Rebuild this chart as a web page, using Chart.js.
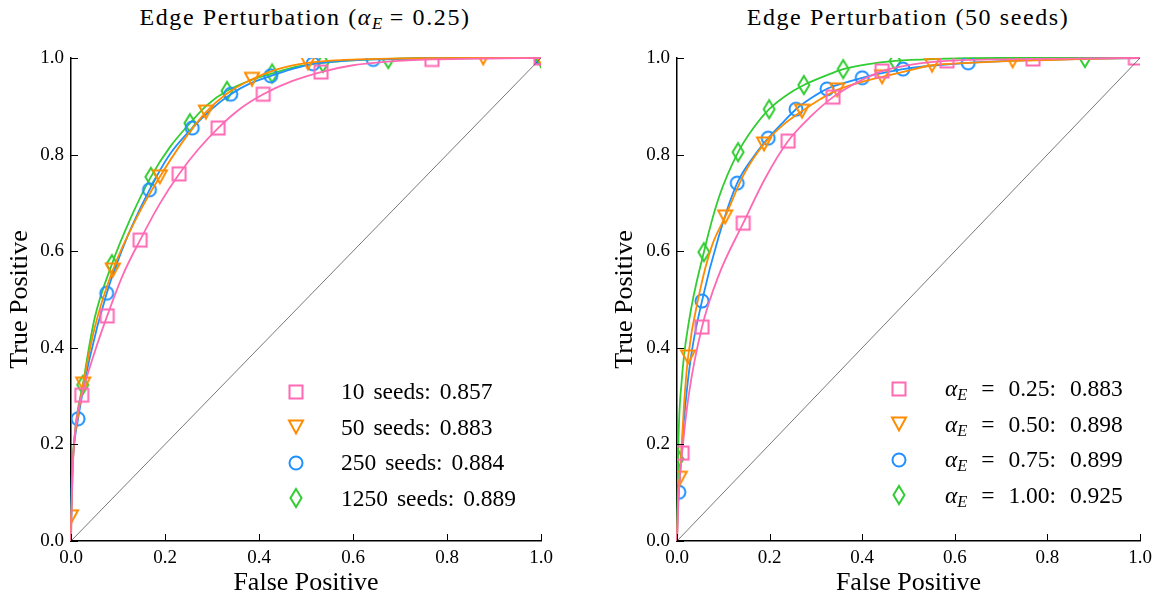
<!DOCTYPE html>
<html>
<head>
<meta charset="utf-8">
<script src="https://cdn.jsdelivr.net/npm/chart.js@4.4.1/dist/chart.umd.min.js"></script>
<style>
  body { margin: 0; background: #fff; width: 1162px; height: 601px; position: relative; overflow: hidden;
         font-family: "Liberation Serif", "DejaVu Serif", serif; color: #000; }
  .panel { position: absolute; top: 0; height: 601px; }
  .title { position: absolute; top: 4px; font-size: 24px; letter-spacing: 1.6px; white-space: nowrap; transform: translateX(-50%); }
  .title sub, .legend sub { font-size: 0.7em; font-style: italic; vertical-align: -0.25em; line-height: 0; letter-spacing: 0; }
  .legend { position: absolute; font-size: 23.5px; word-spacing: 3px; }
  .legend .row { display: flex; align-items: center; height: 35.5px; white-space: nowrap; }
  .legend .sym { display: flex; justify-content: flex-start; }
  #legendR { word-spacing: 8px; }
</style>
</head>
<body>
<div class="title" id="titleL" style="left:305px">Edge Perturbation (<i>α</i><sub>E</sub> = 0.25)</div>
<div class="title" id="titleR" style="left:908px">Edge Perturbation (50 seeds)</div>
<div class="panel" style="left:0;width:581px"><canvas id="chartL"></canvas></div>
<div class="panel" style="left:605px;width:557px"><canvas id="chartR"></canvas></div>
<div class="legend" id="legendL" style="left:284px;top:374px"></div>
<div class="legend" id="legendR" style="left:887px;top:371px"></div>
<script>
const COLORS = ["#ff69b4", "#ff8c00", "#1e90ff", "#32cd32"];
const SHAPES = ["square", "triangleDown", "circle", "thinDiamond"];
const TICKS = [0, 0.2, 0.4, 0.6, 0.8, 1.0];
const DIAGONAL = [[0, 0], [1, 1]];

// left panel: alpha_E = 0.25, number of seeds
const leftLabels = ["10 seeds: 0.857", "50 seeds: 0.883", "250 seeds: 0.884", "1250 seeds: 0.889"];

const leftPinkLine = [[0, 0], [0.002, 0.1], [0.005, 0.18], [0.01, 0.24], [0.023, 0.302], [0.05, 0.39], [0.077, 0.466],
  [0.11, 0.55], [0.147, 0.623], [0.19, 0.70], [0.23, 0.76], [0.27, 0.81], [0.313, 0.855], [0.36, 0.895], [0.409, 0.925],
  [0.47, 0.952], [0.532, 0.971], [0.6, 0.985], [0.68, 0.993], [0.768, 0.997], [0.88, 0.999], [1, 1]];
const leftPinkMarks = [[0.023, 0.302], [0.077, 0.466], [0.147, 0.623], [0.23, 0.76], [0.313, 0.855], [0.409, 0.925],
  [0.532, 0.971], [0.768, 0.997], [1, 1]];

const leftOrangeLine = [[0, 0], [0, 0.05], [0.005, 0.18], [0.015, 0.26], [0.026, 0.325], [0.05, 0.44], [0.089, 0.561],
  [0.14, 0.67], [0.189, 0.754], [0.24, 0.83], [0.287, 0.888], [0.33, 0.925], [0.385, 0.956], [0.44, 0.977],
  [0.504, 0.99], [0.58, 0.996], [0.7, 0.999], [0.877, 1], [1, 1]];
const leftOrangeMarks = [[0, 0.05], [0.026, 0.325], [0.089, 0.561], [0.189, 0.754], [0.287, 0.888], [0.385, 0.956],
  [0.504, 0.99], [0.877, 1], [1, 1]];

const leftBlueLine = [[0, 0], [0.001, 0.1], [0.005, 0.18], [0.015, 0.253], [0.04, 0.38], [0.076, 0.513], [0.12, 0.63],
  [0.167, 0.727], [0.21, 0.80], [0.258, 0.855], [0.30, 0.895], [0.34, 0.925], [0.38, 0.947], [0.425, 0.963],
  [0.47, 0.977], [0.515, 0.988], [0.58, 0.994], [0.643, 0.997], [0.75, 0.999], [1, 1]];
const leftBlueMarks = [[0.015, 0.253], [0.076, 0.513], [0.167, 0.727], [0.258, 0.855], [0.34, 0.925], [0.425, 0.963],
  [0.515, 0.988], [0.643, 0.997], [1, 1]];

const leftGreenLine = [[0, 0], [0.002, 0.12], [0.008, 0.22], [0.025, 0.323], [0.05, 0.46], [0.087, 0.573], [0.13, 0.675],
  [0.170, 0.754], [0.21, 0.815], [0.253, 0.865], [0.29, 0.903], [0.332, 0.932], [0.38, 0.953], [0.428, 0.968],
  [0.48, 0.982], [0.536, 0.99], [0.6, 0.995], [0.675, 0.998], [0.8, 1], [1, 1]];
const leftGreenMarks = [[0.025, 0.323], [0.087, 0.573], [0.170, 0.754], [0.253, 0.865], [0.332, 0.932], [0.428, 0.968],
  [0.536, 0.99], [0.675, 0.998], [1, 1]];

// right panel: 50 seeds, alpha_E varies
const rightAlphas = ["0.25", "0.50", "0.75", "1.00"];
const rightAucs = ["0.883", "0.898", "0.899", "0.925"];

const rightPinkLine = [[0, 0], [0.004, 0.1], [0.011, 0.182], [0.025, 0.3], [0.054, 0.443], [0.09, 0.55], [0.143, 0.658],
  [0.19, 0.75], [0.24, 0.828], [0.29, 0.88], [0.337, 0.919], [0.39, 0.95], [0.443, 0.973], [0.51, 0.987],
  [0.583, 0.994], [0.68, 0.997], [0.769, 0.998], [0.88, 0.999], [1, 1]];
const rightPinkMarks = [[0.011, 0.182], [0.054, 0.443], [0.143, 0.658], [0.24, 0.828], [0.337, 0.919], [0.443, 0.973],
  [0.583, 0.994], [0.769, 0.998], [0.99, 1]];

const rightOrangeLine = [[0, 0], [0.002, 0.08], [0.006, 0.13], [0.015, 0.28], [0.024, 0.381], [0.05, 0.52], [0.075, 0.61],
  [0.104, 0.671], [0.145, 0.76], [0.188, 0.822], [0.23, 0.862], [0.27, 0.890], [0.31, 0.915], [0.346, 0.934],
  [0.39, 0.948], [0.443, 0.961], [0.5, 0.974], [0.551, 0.985], [0.63, 0.99], [0.725, 0.994], [0.85, 0.997], [1, 1]];
const rightOrangeMarks = [[0.006, 0.13], [0.024, 0.381], [0.104, 0.671], [0.188, 0.822], [0.27, 0.890], [0.346, 0.934],
  [0.443, 0.961], [0.551, 0.985], [0.725, 0.994]];

const rightBlueLine = [[0, 0], [0.001, 0.05], [0.004, 0.101], [0.015, 0.25], [0.03, 0.38], [0.054, 0.497], [0.09, 0.63],
  [0.13, 0.741], [0.165, 0.795], [0.197, 0.834], [0.23, 0.868], [0.257, 0.894], [0.29, 0.917], [0.324, 0.936],
  [0.36, 0.948], [0.40, 0.959], [0.44, 0.968], [0.488, 0.977], [0.56, 0.985], [0.629, 0.99], [0.75, 0.995],
  [0.88, 0.998], [1, 1]];
const rightBlueMarks = [[0.004, 0.101], [0.054, 0.497], [0.13, 0.741], [0.197, 0.834], [0.257, 0.894], [0.324, 0.936],
  [0.40, 0.959], [0.488, 0.977], [0.629, 0.99]];

const rightGreenLine = [[0, 0], [0.003, 0.2], [0.01, 0.33], [0.025, 0.45], [0.058, 0.598], [0.09, 0.71], [0.132, 0.805],
  [0.165, 0.855], [0.199, 0.894], [0.235, 0.922], [0.274, 0.944], [0.32, 0.963], [0.359, 0.977], [0.41, 0.987],
  [0.471, 0.994], [0.56, 0.998], [0.7, 1], [1, 1]];
const rightGreenMarks = [[0.002, 0.17], [0.058, 0.598], [0.132, 0.805], [0.199, 0.894], [0.274, 0.944], [0.359, 0.977],
  [0.471, 0.994], [0.881, 1]];

function makeMarker(shape, color) {
  const c = document.createElement("canvas");
  c.width = 24; c.height = 24;
  const g = c.getContext("2d");
  g.strokeStyle = color;
  g.lineWidth = 2;
  g.translate(12, 12);
  g.beginPath();
  if (shape === "square") {
    g.rect(-6.5, -6.5, 13, 13);
  } else if (shape === "circle") {
    g.arc(0, 0, 6.5, 0, Math.PI * 2);
  } else if (shape === "triangleDown") {
    g.moveTo(-7, -6.5); g.lineTo(7, -6.5); g.lineTo(0, 6.5); g.closePath();
  } else {
    g.moveTo(0, -9); g.lineTo(5.5, 0); g.lineTo(0, 9); g.lineTo(-5.5, 0); g.closePath();
  }
  g.stroke();
  return c;
}

const toXY = (pts) => pts.map(([x, y]) => ({ x, y }));

function buildDatasets(lines, marks) {
  const ds = [{
    data: toXY(DIAGONAL),
    borderColor: "#555",
    borderWidth: 0.8,
    pointRadius: 0,
    clip: 0,
  }];
  lines.forEach((line, i) => {
    ds.push({
      data: toXY(line),
      borderColor: COLORS[i],
      borderWidth: 1.8,
      pointRadius: 0,
      cubicInterpolationMode: "monotone",
      clip: 1,
    });
    ds.push({
      data: toXY(marks[i]),
      showLine: false,
      pointStyle: makeMarker(SHAPES[i], COLORS[i]),
      pointRadius: 7,
      clip: 0,
    });
  });
  return ds;
}

const innerTicks = {
  id: "innerTicks",
  afterDraw(chart) {
    const { ctx, chartArea: a, scales } = chart;
    ctx.save();
    ctx.strokeStyle = "#000";
    ctx.lineWidth = 1;
    ctx.beginPath();
    TICKS.forEach((v) => {
      const x = Math.round(scales.x.getPixelForValue(v)) + 0.5;
      ctx.moveTo(x, a.bottom);
      ctx.lineTo(x, a.bottom - 7);
      const y = Math.round(scales.y.getPixelForValue(v)) + 0.5;
      ctx.moveTo(a.left, y);
      ctx.lineTo(a.left + 7, y);
    });
    ctx.stroke();
    ctx.restore();
  },
};

function axis(title, fitKey, fitVal, tickPad, titlePad) {
  return {
    type: "linear",
    min: 0,
    max: 1,
    afterBuildTicks: (s) => { s.ticks = TICKS.map((v) => ({ value: v })); },
    afterFit: (s) => { s[fitKey] = fitVal; },
    ticks: {
      callback: (v) => Number(v).toFixed(1),
      color: "#000",
      padding: tickPad,
      font: { family: "Liberation Serif", size: 19 },
    },
    grid: { drawOnChartArea: false, drawTicks: false },
    border: { display: true, color: "#000", width: 1.5 },
    title: {
      display: true,
      text: title,
      color: "#000",
      padding: titlePad,
      font: { family: "Liberation Serif", size: 26 },
    },
  };
}

function createChart(canvasId, lines, marks, yWidth, rightPad) {
  new Chart(document.getElementById(canvasId), {
    type: "line",
    data: { datasets: buildDatasets(lines, marks) },
    options: {
      responsive: true,
      maintainAspectRatio: false,
      animation: false,
      layout: { padding: { top: 58, right: rightPad, left: 0, bottom: 0 } },
      plugins: { legend: { display: false }, tooltip: { enabled: false } },
      scales: {
        x: axis("False Positive", "height", 60, 6, { top: 0, bottom: 2 }),
        y: axis("True Positive", "width", yWidth, 7, 5),
      },
    },
    plugins: [innerTicks],
  });
}

function buildLegend(id, texts, symWidth) {
  const el = document.getElementById(id);
  texts.forEach((html, i) => {
    const row = document.createElement("div");
    row.className = "row";
    const sym = document.createElement("div");
    sym.className = "sym";
    sym.style.width = symWidth + "px";
    sym.appendChild(makeMarker(SHAPES[i], COLORS[i]));
    const txt = document.createElement("span");
    txt.innerHTML = html;
    row.appendChild(sym);
    row.appendChild(txt);
    el.appendChild(row);
  });
}

createChart("chartL", [leftPinkLine, leftOrangeLine, leftBlueLine, leftGreenLine],
  [leftPinkMarks, leftOrangeMarks, leftBlueMarks, leftGreenMarks], 71, 40);
createChart("chartR", [rightPinkLine, rightOrangeLine, rightBlueLine, rightGreenLine],
  [rightPinkMarks, rightOrangeMarks, rightBlueMarks, rightGreenMarks], 72, 22);

buildLegend("legendL", leftLabels, 57);
buildLegend("legendR", rightAlphas.map((a, i) => `<i>α</i><sub>E</sub> = ${a}: ${rightAucs[i]}`), 58);
</script>
</body>
</html>
